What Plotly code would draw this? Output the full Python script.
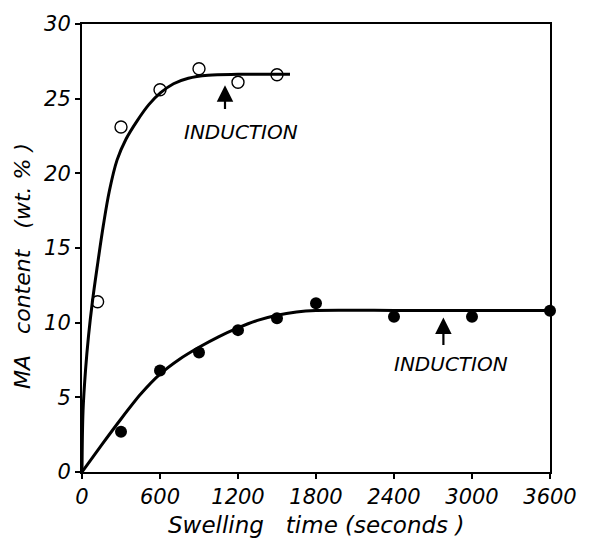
import plotly.graph_objects as go

# measured points
fast_t = [120, 300, 600, 900, 1200, 1500]
fast_y = [11.4, 23.1, 25.6, 27.0, 26.1, 26.6]
slow_t = [300, 600, 900, 1200, 1500, 1800, 2400, 3000, 3600]
slow_y = [2.7, 6.8, 8.0, 9.5, 10.3, 11.3, 10.4, 10.4, 10.8]

# drawn curves
fast_curve_t = [0, 8, 27, 50, 80, 118, 164, 210, 270, 339, 423, 514, 605, 704, 818, 970, 1200, 1600]
fast_curve_y = [0, 4.1, 6.8, 9.1, 11.4, 13.8, 16.5, 18.8, 20.9, 22.3, 23.5, 24.6, 25.4, 26.0, 26.37, 26.57, 26.63, 26.63]
slow_curve_t = [0, 150, 300, 450, 600, 750, 900, 1050, 1200, 1350, 1500, 1650, 1800, 2400, 3000, 3600]
slow_curve_y = [0, 1.8, 3.55, 5.2, 6.55, 7.55, 8.35, 9.05, 9.65, 10.15, 10.5, 10.72, 10.82, 10.82, 10.82, 10.82]

x_ticks = [0, 600, 1200, 1800, 2400, 3000, 3600]
y_ticks = [0, 5, 10, 15, 20, 25, 30]

FONT = "DejaVu Sans"
tickfont = dict(family=FONT, size=21, color="black", style="italic")

fig = go.Figure()
fig.add_trace(go.Scatter(x=fast_curve_t, y=fast_curve_y, mode="lines",
                         line=dict(color="black", width=3, shape="spline", smoothing=1.0),
                         showlegend=False, hoverinfo="skip"))
fig.add_trace(go.Scatter(x=slow_curve_t, y=slow_curve_y, mode="lines",
                         line=dict(color="black", width=3, shape="spline", smoothing=0.6),
                         showlegend=False, hoverinfo="skip"))
fig.add_trace(go.Scatter(x=fast_t, y=fast_y, mode="markers", cliponaxis=False,
                         marker=dict(symbol="circle-open", size=12, color="black",
                                     line=dict(width=1.4, color="black")),
                         showlegend=False))
fig.add_trace(go.Scatter(x=slow_t, y=slow_y, mode="markers", cliponaxis=False,
                         marker=dict(symbol="circle", size=12, color="black"),
                         showlegend=False))

# INDUCTION arrows and labels
for (ax_x, tail_y, head_y, tx, ty) in [(1100, 24.2, 25.9, 1220, 22.8),
                                       (2780, 8.4, 10.35, 2835, 7.2)]:
    fig.add_annotation(x=ax_x, y=head_y, ax=ax_x, ay=tail_y, xref="x", yref="y",
                       axref="x", ayref="y", text="", showarrow=True,
                       arrowhead=2, arrowsize=1.5, arrowwidth=2.2, arrowcolor="black",
                       standoff=0, startstandoff=0)
    fig.add_annotation(x=tx, y=ty, xref="x", yref="y", text="INDUCTION", showarrow=False,
                       font=dict(family=FONT, size=20, color="black", style="italic"))

# axis titles
fig.add_annotation(x=0, y=0.46, xref="paper", yref="paper", xshift=-59,
                   xanchor="center", yanchor="middle",
                   text="MA   content   (wt. % )", showarrow=False, textangle=-90,
                   font=dict(family=FONT, size=22, color="black", style="italic"))
fig.add_annotation(x=0.5, y=0, xref="paper", yref="paper", yshift=-53,
                   xanchor="center", yanchor="middle",
                   text="Swelling   time (seconds )", showarrow=False,
                   font=dict(family=FONT, size=23, color="black", style="italic"))

fig.update_xaxes(range=[0, 3600], tickvals=x_ticks, ticktext=[str(v) for v in x_ticks],
                 ticks="outside", ticklen=5, tickwidth=1.5, tickcolor="black",
                 showline=True, linecolor="black", linewidth=2, mirror=True,
                 showgrid=False, zeroline=False, tickfont=tickfont)
fig.update_yaxes(range=[0, 30], tickvals=y_ticks,
                 ticks="outside", ticklen=5, tickwidth=1.5, tickcolor="black",
                 showline=True, linecolor="black", linewidth=2, mirror=True,
                 showgrid=False, zeroline=False, tickfont=tickfont)

fig.update_layout(width=589, height=546, margin=dict(l=82, r=34, t=20, b=74),
                  plot_bgcolor="white", paper_bgcolor="white")

fig.write_html("out.html")
